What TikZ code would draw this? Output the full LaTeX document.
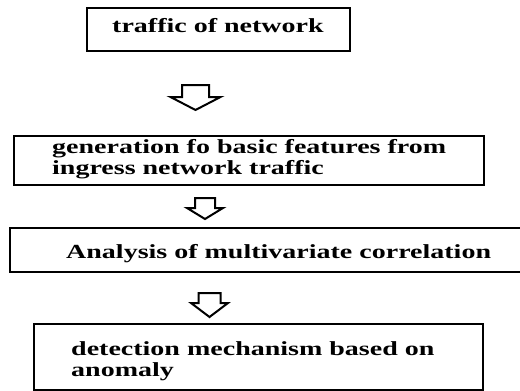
\documentclass[tikz,border=0pt]{standalone}
\usepackage{fontspec}
\newfontfamily\boxfont{Liberation Serif}[FakeStretch=1.40]
\begin{document}
\begin{tikzpicture}[x=1pt,y=-1pt,
  stepbox/.style={draw=black,line width=2.2pt,inner sep=0pt,anchor=north west,fill=white},
  lbl/.style={anchor=base west,inner sep=0pt,font=\boxfont\bfseries\fontsize{20}{23}\selectfont,text=black},
  hollow/.style={draw=black,line width=2pt,fill=white,line join=miter}]
\useasboundingbox (0,0) rectangle (520,391);
\clip (0,0) rectangle (520,391);

% process boxes
\node[stepbox,minimum width=263pt,minimum height=43pt] (b1) at (86,7) {};
\node[stepbox,minimum width=470pt,minimum height=49pt] (b2) at (13,135) {};
\node[stepbox,minimum width=530pt,minimum height=44pt] (b3) at (9,227) {};
\node[stepbox,minimum width=449pt,minimum height=66pt] (b4) at (33,323) {};

% box texts
\node[lbl] (t1) at (112,32) {traffic of network};
\node[lbl] (t2a) at (52,153) {generation fo basic features from};
\node[lbl] (t2b) at (52,174) {ingress network traffic};
\node[lbl] (t3) at (66,258) {Analysis of multivariate correlation};
\node[lbl] (t4a) at (71,355) {detection mechanism based on};
\node[lbl] (t4b) at (71,376) {anomaly};

% hollow block arrows between the boxes
% (centre x, stem top, shoulder, tip, stem half-width, head half-width)
\newcommand\blockarrow[6]{%
  \draw[hollow] (#1-#5,#2) -- (#1+#5,#2) -- (#1+#5,#3) -- (#1+#6,#3)
    -- (#1,#4) -- (#1-#6,#3) -- (#1-#5,#3) -- cycle;}
\blockarrow{195.5}{85}{97}{110}{13.5}{25}
\blockarrow{205}{198}{208}{219}{10}{18}
\blockarrow{209.5}{293}{303}{317}{11}{18.5}
\end{tikzpicture}
\end{document}
